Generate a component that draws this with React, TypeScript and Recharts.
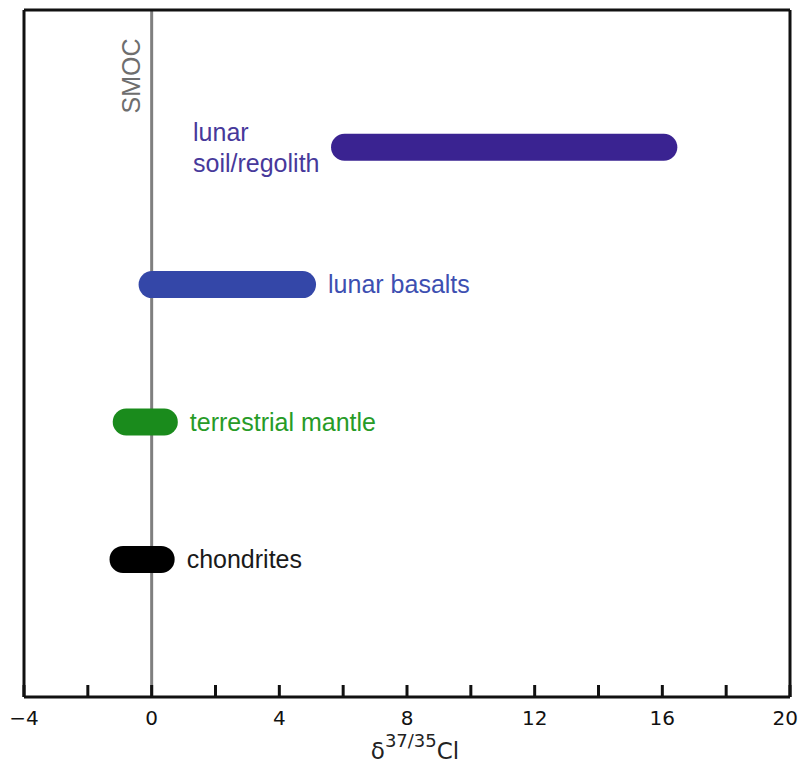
import React from 'react';
import { BarChart, Bar, XAxis, YAxis, ReferenceLine, LabelList, Cell } from 'recharts';

// rows from top to bottom
const groups = ['lunar soil/regolith', 'lunar basalts', 'terrestrial mantle', 'chondrites'];
const labelLines = [['lunar', 'soil/regolith'], ['lunar basalts'], ['terrestrial mantle'], ['chondrites']];
const labelSide = ['left', 'right', 'right', 'right'];
const lowValues = [5.62, -0.41, -1.22, -1.32];
const highValues = [16.47, 5.15, 0.82, 0.72];

const xTicks = [-4, -2, 0, 2, 4, 6, 8, 10, 12, 14, 16, 18, 20];
const labeledTicks = [-4, 0, 4, 8, 12, 16, 20];

const barColors = ['#3a2391', '#3447a8', '#1a8b1c', '#000000'];
const textColors = ['#47399b', '#3d4fb1', '#279b27', '#1a1a1a'];

const data = groups.map((name, i) => ({ name, range: [lowValues[i], highValues[i]] }));

const SANS = '"Liberation Sans", Arial, sans-serif';
const DEJAVU = '"DejaVu Sans", sans-serif';
const FRAME = { stroke: '#111', strokeWidth: 3 };
const W = 790;
const H = 758;
const MARGIN = { top: 1, right: 7, bottom: 1, left: 15 };
const ROW_PAD = { top: 68.7, bottom: 68.7 };

const fmt = (v: number) => (v < 0 ? '\u2212' + Math.abs(v) : String(v));

const XTick = (props: any) => {
  const { x, y, payload } = props;
  const v = payload.value;
  const last = v === xTicks[xTicks.length - 1];
  return (
    <g>
      <line x1={x} x2={x} y1={y} y2={y - 12} stroke="#111" strokeWidth={3} />
      {labeledTicks.includes(v) && (
        <text
          x={last ? x + 8 : x}
          y={y + 28}
          textAnchor={last ? 'end' : 'middle'}
          fontFamily={DEJAVU}
          fontSize={20}
          fill="#111"
        >
          {fmt(v)}
        </text>
      )}
    </g>
  );
};

const RoundBar = (props: any) => {
  const { x, y, width, height, fill } = props;
  if (width == null || height == null) return null;
  const w = Math.abs(width);
  const left = width < 0 ? x + width : x;
  return <rect x={left} y={y} width={w} height={height} rx={height / 2} ry={height / 2} fill={fill} />;
};

const BarLabel = (props: any) => {
  const { x, y, width, height, index } = props;
  const cy = y + height / 2;
  const color = textColors[index];
  if (labelSide[index] === 'left') {
    const lines = labelLines[index];
    return (
      <g>
        <text x={x - 138} y={cy - 6} fontFamily={SANS} fontSize={25} fill={color}>{lines[0]}</text>
        <text x={x - 138} y={cy + 25} fontFamily={SANS} fontSize={25} fill={color}>{lines[1]}</text>
      </g>
    );
  }
  return (
    <text x={x + width + 12} y={cy + 8.5} fontFamily={SANS} fontSize={25} fill={color}>
      {labelLines[index][0]}
    </text>
  );
};

const SmocLabel = (props: any) => {
  const { viewBox } = props;
  const tx = viewBox.x - 21;
  const ty = viewBox.y + 66;
  return (
    <text
      x={tx}
      y={ty}
      transform={`rotate(-90 ${tx} ${ty})`}
      textAnchor="middle"
      dominantBaseline="central"
      fontFamily={SANS}
      fontSize={25}
      fill="#6e6e6e"
    >
      SMOC
    </text>
  );
};

const AxisTitle = (props: any) => {
  const { viewBox } = props;
  const cx = viewBox.x + viewBox.width / 2 + 8;
  const by = viewBox.y + 62;
  return (
    <text x={cx} y={by} textAnchor="middle" fontFamily={DEJAVU} fill="#222">
      <tspan fontSize={23}>δ</tspan>
      <tspan fontSize={18} dy={-12}>37/35</tspan>
      <tspan fontSize={23} dy={12}>Cl</tspan>
    </text>
  );
};

const layer: React.CSSProperties = { position: 'absolute', left: 0, top: 0 };

export default function App() {
  return (
    <div style={{ position: 'relative', width: W, height: H, overflow: 'hidden' }}>
      {/* frame, ticks, SMOC line */}
      <div style={layer}>
        <BarChart width={W} height={H} data={data} layout="vertical" margin={MARGIN}>
          <XAxis
            type="number"
            domain={[-4, 20]}
            ticks={xTicks}
            interval={0}
            allowDataOverflow
            axisLine={FRAME}
            tickLine={false}
            tickSize={0}
            tickMargin={0}
            tick={<XTick />}
            height={68}
            label={<AxisTitle />}
          />
          <XAxis
            xAxisId="top"
            orientation="top"
            type="number"
            domain={[-4, 20]}
            height={1}
            tick={false}
            tickLine={false}
            axisLine={FRAME}
          />
          <YAxis type="category" dataKey="name" width={1} tick={false} tickLine={false} axisLine={FRAME} padding={ROW_PAD} />
          <YAxis
            yAxisId="right"
            orientation="right"
            type="number"
            domain={[0, 1]}
            width={1}
            tick={false}
            tickLine={false}
            axisLine={FRAME}
          />
          <ReferenceLine x={0} stroke="#7f7f7f" strokeWidth={3} label={<SmocLabel />} />
        </BarChart>
      </div>
      {/* bars drawn above the SMOC line */}
      <div style={layer}>
        <BarChart width={W} height={H} data={data} layout="vertical" margin={MARGIN}>
          <XAxis type="number" domain={[-4, 20]} ticks={xTicks} allowDataOverflow axisLine={false} tickLine={false} tick={false} height={68} />
          <XAxis xAxisId="top" orientation="top" type="number" domain={[-4, 20]} height={1} tick={false} tickLine={false} axisLine={false} />
          <YAxis type="category" dataKey="name" width={1} tick={false} tickLine={false} axisLine={false} padding={ROW_PAD} />
          <YAxis yAxisId="right" orientation="right" type="number" domain={[0, 1]} width={1} tick={false} tickLine={false} axisLine={false} />
          <Bar dataKey="range" barSize={27} isAnimationActive={false} shape={<RoundBar />}>
            {data.map((d, i) => (
              <Cell key={d.name} fill={barColors[i]} />
            ))}
            <LabelList dataKey="name" content={<BarLabel />} />
          </Bar>
        </BarChart>
      </div>
    </div>
  );
}
